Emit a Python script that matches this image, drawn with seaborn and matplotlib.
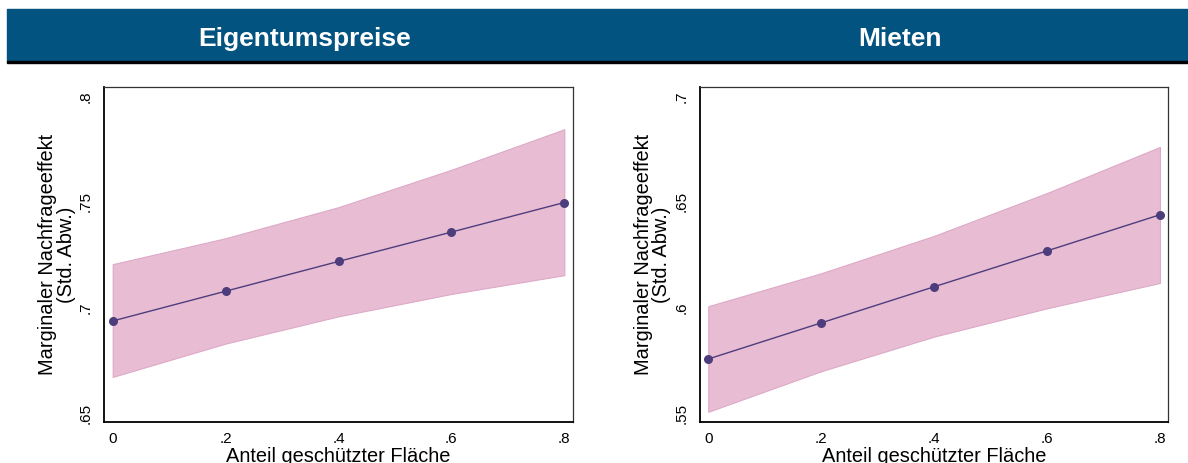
import numpy as np
import pandas as pd
import matplotlib
matplotlib.use("Agg")
import matplotlib.pyplot as plt
import seaborn as sns
from matplotlib.patches import Rectangle

# values
share = [0.0, 0.2, 0.4, 0.6, 0.8]

own_est = [0.6936, 0.7077, 0.7218, 0.7357, 0.7497]
own_lo = [0.6671, 0.6829, 0.6958, 0.7064, 0.7153]
own_hi = [0.7205, 0.7328, 0.7475, 0.7652, 0.7844]

rent_est = [0.5756, 0.5927, 0.6098, 0.6268, 0.6439]
rent_lo = [0.5506, 0.5698, 0.5862, 0.5996, 0.6116]
rent_hi = [0.6006, 0.6162, 0.6339, 0.6542, 0.6760]

panel_titles = ["Eigentumspreise", "Mieten"]
own_yticks = [0.65, 0.70, 0.75, 0.80]
rent_yticks = [0.55, 0.60, 0.65, 0.70]
xticks = [0.0, 0.2, 0.4, 0.6, 0.8]

ylabel = "Marginaler Nachfrageeffekt\n(Std. Abw.)"
xlabel = "Anteil geschützter Fläche"

HEADER = "#02537F"
FILL = "#E8BDD4"
FILL_EDGE = "#DDA9C7"
LINE = "#4E3D7C"


def stata_label(v):
    # Stata style: drop the leading zero
    if v == 0:
        return "0"
    return f"{v:g}".replace("0.", ".")


sns.set_style("white")
plt.rcParams['font.family'] = ['Liberation Sans', 'DejaVu Sans']
plt.rcParams['text.color'] = 'black'
plt.rcParams['axes.labelcolor'] = 'black'

W, H = 1188, 463
fig = plt.figure(figsize=(W / 100, H / 100), dpi=100)

# header band across the top
fig.patches.append(Rectangle((7 / W, 1 - 61 / H), 1 - 7 / W, 52 / H,
                             transform=fig.transFigure, color=HEADER, zorder=0))
fig.patches.append(Rectangle((7 / W, 1 - 63 / H), 1 - 7 / W, 2 / H,
                             transform=fig.transFigure, color="black", zorder=0))

panels = [
    (own_est, own_lo, own_hi, own_yticks, (0.6459, 0.8044), 104, 305),
    (rent_est, rent_lo, rent_hi, rent_yticks, (0.5459, 0.7044), 699.6, 900),
]

for i, (est, lo, hi, yt, ylim, left_px, title_px) in enumerate(panels):
    ax = fig.add_axes([left_px / W, (H - 421.7) / H, 468.7 / W, 334.7 / H])
    df = pd.DataFrame({"share": share, "est": est, "lo": lo, "hi": hi})

    ax.fill_between(df["share"], df["lo"], df["hi"], color=FILL,
                    edgecolor=FILL_EDGE, linewidth=0.8, zorder=1)
    sns.lineplot(data=df, x="share", y="est", ax=ax, color=LINE, linewidth=1.0,
                 marker="o", markersize=6.5, markeredgewidth=0, zorder=3)

    ax.set_xlim(-0.0154, 0.8148)
    ax.set_ylim(*ylim)
    ax.set_xticks(xticks)
    ax.set_xticklabels([stata_label(v) for v in xticks])
    ax.set_yticks(yt)
    ax.set_yticklabels([stata_label(v) for v in yt], rotation=90, va="center")

    ax.tick_params(axis="both", direction="out", length=4, width=0.9,
                   color="black", labelsize=11, labelcolor="black")
    ax.tick_params(axis="x", pad=3.5)
    ax.tick_params(axis="y", pad=4)
    ax.grid(False)

    for side in ["left", "bottom"]:
        ax.spines[side].set_color("black")
        ax.spines[side].set_linewidth(1.3)
    for side in ["top", "right"]:
        ax.spines[side].set_color("#333333")
        ax.spines[side].set_linewidth(0.9)

    ax.set_ylabel(ylabel, fontsize=14.4, linespacing=0.95)
    ax.yaxis.label.set_verticalalignment("center")
    ax.yaxis.label.set_multialignment("center")
    ax.yaxis.set_label_coords((57 - 104) / 468.7, 0.5)

    ax.set_xlabel(xlabel, fontsize=14.4)
    ax.xaxis.label.set_verticalalignment("baseline")
    ax.xaxis.set_label_coords(0.5, (421.7 - 462) / 334.7)

    fig.text(title_px / W, 1 - 46 / H, panel_titles[i], color="white",
             fontsize=19, fontweight="bold", ha="center", va="baseline")

fig.savefig("out.png", dpi=100)
